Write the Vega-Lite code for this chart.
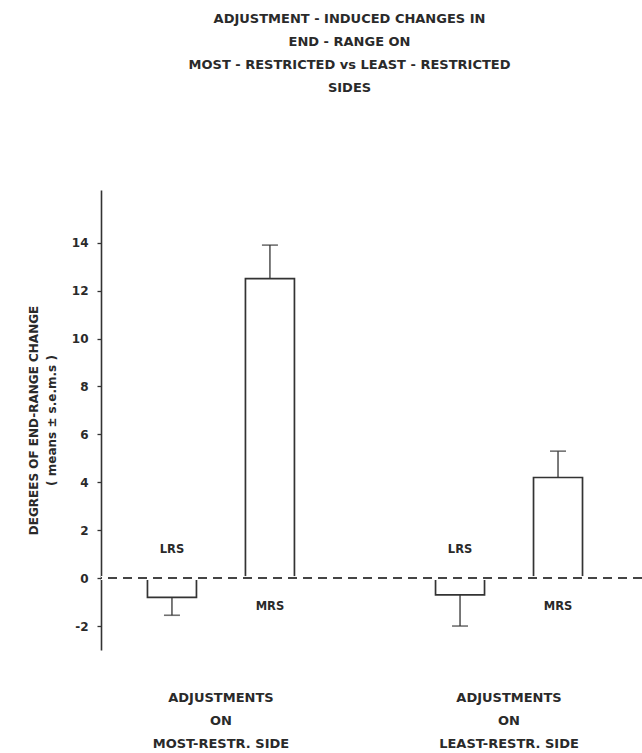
{
  "$schema": "https://vega.github.io/schema/vega-lite/v6.json",
  "autosize": "none",
  "padding": {"left": 101, "top": 190, "right": 0, "bottom": 103},
  "width": 541,
  "height": 460,
  "background": "white",
  "title": {
    "text": ["ADJUSTMENT - INDUCED CHANGES IN", "END - RANGE ON", "MOST - RESTRICTED vs LEAST - RESTRICTED", "SIDES"],
    "anchor": "middle",
    "frame": "group",
    "dx": -22,
    "offset": 95,
    "font": "DejaVu Sans",
    "fontSize": 13,
    "fontWeight": "bold",
    "lineHeight": 23,
    "color": "#2a2a2a"
  },
  "data": {
    "values": [
      {"group": "ADJUSTMENTS|ON|MOST-RESTR. SIDE", "side": "LRS", "mean": -0.8, "errEnd": -1.55},
      {"group": "ADJUSTMENTS|ON|MOST-RESTR. SIDE", "side": "MRS", "mean": 12.5, "errEnd": 13.9},
      {"group": "ADJUSTMENTS|ON|LEAST-RESTR. SIDE", "side": "LRS", "mean": -0.7, "errEnd": -2.0},
      {"group": "ADJUSTMENTS|ON|LEAST-RESTR. SIDE", "side": "MRS", "mean": 4.2, "errEnd": 5.3}
    ]
  },
  "layer": [
    {
      "mark": {"type": "bar", "fill": "white", "stroke": "#333333", "strokeWidth": 1.7},
      "encoding": {
        "x": {
          "field": "group",
          "type": "nominal",
          "sort": null,
          "scale": {"paddingInner": 0.3, "paddingOuter": 0.089, "align": 0.373},
          "axis": {
            "title": null,
            "domain": false,
            "ticks": false,
            "labelAngle": 0,
            "labelPadding": 41,
            "labelExpr": "split(datum.label, '|')",
            "labelFont": "DejaVu Sans",
            "labelFontSize": 13,
            "labelFontWeight": "bold",
            "labelLineHeight": 23,
            "labelColor": "#2a2a2a",
            "labelLimit": 300
          }
        },
        "xOffset": {
          "field": "side",
          "type": "nominal",
          "sort": ["LRS", "MRS"],
          "scale": {"paddingInner": 0.5, "paddingOuter": 0.279}
        },
        "y": {
          "field": "mean",
          "type": "quantitative",
          "scale": {"domain": [-3, 16.2], "nice": false, "zero": false},
          "axis": {
            "values": [-2, 0, 2, 4, 6, 8, 10, 12, 14],
            "labelExpr": "replace(datum.label, '−', '-')",
            "grid": false,
            "domainColor": "#333333",
            "domainWidth": 1.6,
            "tickColor": "#333333",
            "tickSize": 4,
            "tickWidth": 1.3,
            "labelPadding": 9,
            "labelFont": "DejaVu Sans",
            "labelFontSize": 12,
            "labelFontWeight": "bold",
            "labelColor": "#2a2a2a",
            "title": ["DEGREES OF END-RANGE CHANGE", "( means ± s.e.m.s )"],
            "titleFont": "DejaVu Sans",
            "titleFontSize": 12,
            "titleFontWeight": "bold",
            "titleColor": "#2a2a2a",
            "titleLineHeight": 18,
            "titlePadding": 13
          }
        }
      }
    },
    {
      "mark": {"type": "rule", "stroke": "white", "strokeWidth": 3.5},
      "encoding": {"y": {"datum": 0}}
    },
    {
      "mark": {"type": "rule", "stroke": "#444444", "strokeWidth": 1.6, "strokeDash": [9, 6]},
      "encoding": {"y": {"datum": 0}}
    },
    {
      "mark": {"type": "rule", "stroke": "#333333", "strokeWidth": 1.3},
      "encoding": {
        "x": {"field": "group", "type": "nominal", "sort": null},
        "xOffset": {"field": "side", "type": "nominal", "sort": ["LRS", "MRS"]},
        "y": {"field": "mean", "type": "quantitative"},
        "y2": {"field": "errEnd"}
      }
    },
    {
      "mark": {"type": "tick", "color": "#333333", "size": 16, "thickness": 1.6, "orient": "horizontal"},
      "encoding": {
        "x": {"field": "group", "type": "nominal", "sort": null},
        "xOffset": {"field": "side", "type": "nominal", "sort": ["LRS", "MRS"]},
        "y": {"field": "errEnd", "type": "quantitative"}
      }
    },
    {
      "transform": [{"filter": "datum.side === 'LRS'"}],
      "mark": {"type": "text", "dy": -28, "font": "DejaVu Sans", "fontSize": 11.5, "fontWeight": "bold", "color": "#2a2a2a"},
      "encoding": {
        "x": {"field": "group", "type": "nominal", "sort": null},
        "xOffset": {"field": "side", "type": "nominal", "sort": ["LRS", "MRS"]},
        "y": {"datum": 0},
        "text": {"field": "side"}
      }
    },
    {
      "transform": [{"filter": "datum.side === 'MRS'"}],
      "mark": {"type": "text", "dy": 29, "font": "DejaVu Sans", "fontSize": 11.5, "fontWeight": "bold", "color": "#2a2a2a"},
      "encoding": {
        "x": {"field": "group", "type": "nominal", "sort": null},
        "xOffset": {"field": "side", "type": "nominal", "sort": ["LRS", "MRS"]},
        "y": {"datum": 0},
        "text": {"field": "side"}
      }
    }
  ],
  "config": {"view": {"stroke": null}}
}
